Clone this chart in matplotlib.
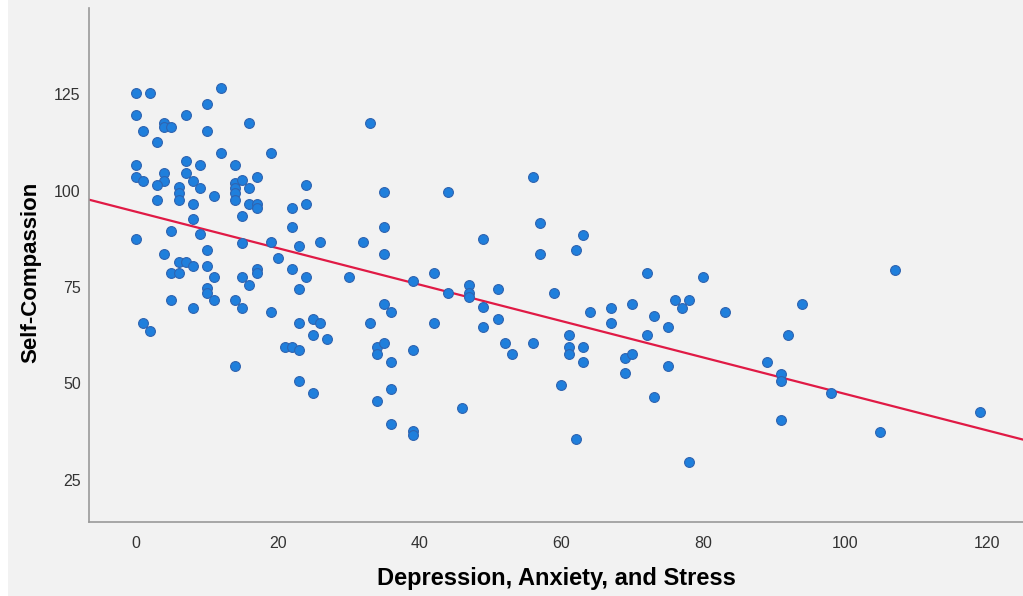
import matplotlib
matplotlib.use("Agg")
import matplotlib.pyplot as plt

# ---- data ----
das = [0, 2, 12, 10, 0, 7, 4, 4, 5, 16, 1, 10, 3, 12, 19, 0, 7, 9, 14, 0,
       1, 4, 4, 7, 8, 3, 6, 6, 6, 9, 11, 14, 14, 14, 14, 15, 17, 16, 3, 8,
       16, 17, 17, 15, 8, 5, 0, 9, 15, 19, 10, 4, 6, 7, 8, 10, 5, 6, 11, 15,
       17, 17, 16, 10, 10, 5, 11, 14, 8, 15, 19, 1, 2, 14,
       33, 24, 35, 44, 22, 24, 22, 35, 23, 26, 32, 35, 20, 22, 24, 30, 23, 39,
       42, 44, 35, 36, 23, 25, 26, 33, 42, 25, 27, 21, 22, 23, 34, 35, 34, 39,
       36, 23, 25, 36, 34, 36, 39, 39,
       56, 57, 49, 63, 62, 57, 47, 47, 47, 51, 59, 49, 64, 67, 51, 49, 67, 52,
       56, 53, 61, 61, 61, 63, 63, 69, 69, 60, 46, 62,
       72, 80, 70, 76, 78, 77, 73, 75, 83, 94, 72, 92, 70, 75, 89, 91, 91, 73,
       91, 78, 107, 98, 105, 119]
self_comp = [125.4, 125.4, 126.5, 122.5, 119.6, 119.5, 117.6, 116.4, 116.4, 117.5,
             115.5, 115.5, 112.6, 109.6, 109.6, 106.5, 107.7, 106.5, 106.5, 103.6,
             102.5, 104.6, 102.5, 104.6, 102.5, 101.4, 100.8, 99.4, 97.5, 100.6,
             98.6, 101.9, 100.6, 99.4, 97.5, 102.7, 103.6, 100.6, 97.5, 96.5,
             96.5, 96.5, 95.5, 93.5, 92.5, 89.5, 87.5, 88.7, 86.5, 86.7,
             84.5, 83.5, 81.6, 81.6, 80.5, 80.5, 78.6, 78.6, 77.5, 77.5,
             79.7, 78.6, 75.5, 74.7, 73.5, 71.6, 71.6, 71.6, 69.6, 69.6,
             68.4, 65.6, 63.5, 54.5,
             117.6, 101.5, 99.5, 99.5, 95.5, 96.5, 90.5, 90.5, 85.6, 86.6,
             86.6, 83.5, 82.6, 79.6, 77.5, 77.5, 74.5, 76.6, 78.5, 73.5,
             70.6, 68.5, 65.6, 66.6, 65.6, 65.6, 65.6, 62.6, 61.6, 59.5,
             59.5, 58.6, 59.5, 60.6, 57.6, 58.6, 55.6, 50.6, 47.5, 48.5,
             45.5, 39.6, 37.8, 36.7,
             103.6, 91.6, 87.5, 88.6, 84.6, 83.5, 75.6, 73.5, 72.5, 74.6,
             73.5, 69.7, 68.5, 69.6, 66.6, 64.6, 65.6, 60.6, 60.6, 57.6,
             62.6, 59.5, 57.6, 59.5, 55.6, 56.5, 52.6, 49.6, 43.6, 35.6,
             78.5, 77.7, 70.6, 71.6, 71.6, 69.5, 67.6, 64.6, 68.6, 70.6,
             62.6, 62.6, 57.6, 54.6, 55.6, 52.5, 50.6, 46.6, 40.5, 29.7,
             79.5, 47.5, 37.5, 42.5]
fit_intercept = 94.5
fit_slope = -0.472
x_ticks = [0, 20, 40, 60, 80, 100, 120]
y_ticks = [25, 50, 75, 100, 125]
x_label = "Depression, Anxiety, and Stress"
y_label = "Self-Compassion"

FONT = "Liberation Sans"
BG = "#f2f2f2"
W, H = 1023, 596
fig = plt.figure(figsize=(W / 100, H / 100), dpi=100, facecolor=BG)
# white strip on the far left of the reference
fig.patches.append(plt.Rectangle((0, 0), 8 / W, 1, transform=fig.transFigure,
                                 facecolor="white", edgecolor="none", zorder=-1))
ax = fig.add_axes([89 / W, 1 - 522 / H, (W - 89) / W, (522 - 8) / H])
ax.set_facecolor(BG)

ax.scatter(das, self_comp, s=50, facecolor="#1f7fdc", edgecolor="#2f64b0",
           linewidth=0.8, zorder=3)

xmin, xmax = -6.63, 125.1
ax.plot([xmin, xmax], [fit_intercept + fit_slope * xmin, fit_intercept + fit_slope * xmax],
        color="#e01a45", linewidth=1.6, zorder=2)

ax.set_xlim(xmin, xmax)
ax.set_ylim(14.1, 147.3)
ax.set_xticks(x_ticks)
ax.set_yticks(y_ticks)

for side in ("top", "right"):
    ax.spines[side].set_visible(False)
for side in ("left", "bottom"):
    ax.spines[side].set_color("#9a9a9a")
    ax.spines[side].set_linewidth(1.2)

ax.tick_params(axis="both", length=0, labelsize=11.5, labelcolor="#333333")
ax.tick_params(axis="x", pad=10)
ax.tick_params(axis="y", pad=6)
for lab in ax.get_xticklabels() + ax.get_yticklabels():
    lab.set_fontfamily(FONT)

ax.set_xlabel(x_label, fontsize=17, fontweight="bold", fontfamily=FONT, color="black")
ax.xaxis.set_label_coords(0.5, -(578 - 522) / (522 - 8), transform=ax.transAxes)
ax.xaxis.label.set_va("center")
ax.set_ylabel(y_label, fontsize=16, fontweight="bold", fontfamily=FONT, color="black")
ax.yaxis.set_label_coords(-(89 - 31) / (W - 89), (522 - 272) / (522 - 8), transform=ax.transAxes)
ax.yaxis.label.set_va("center")

fig.savefig("out.png", dpi=100, facecolor=BG)
